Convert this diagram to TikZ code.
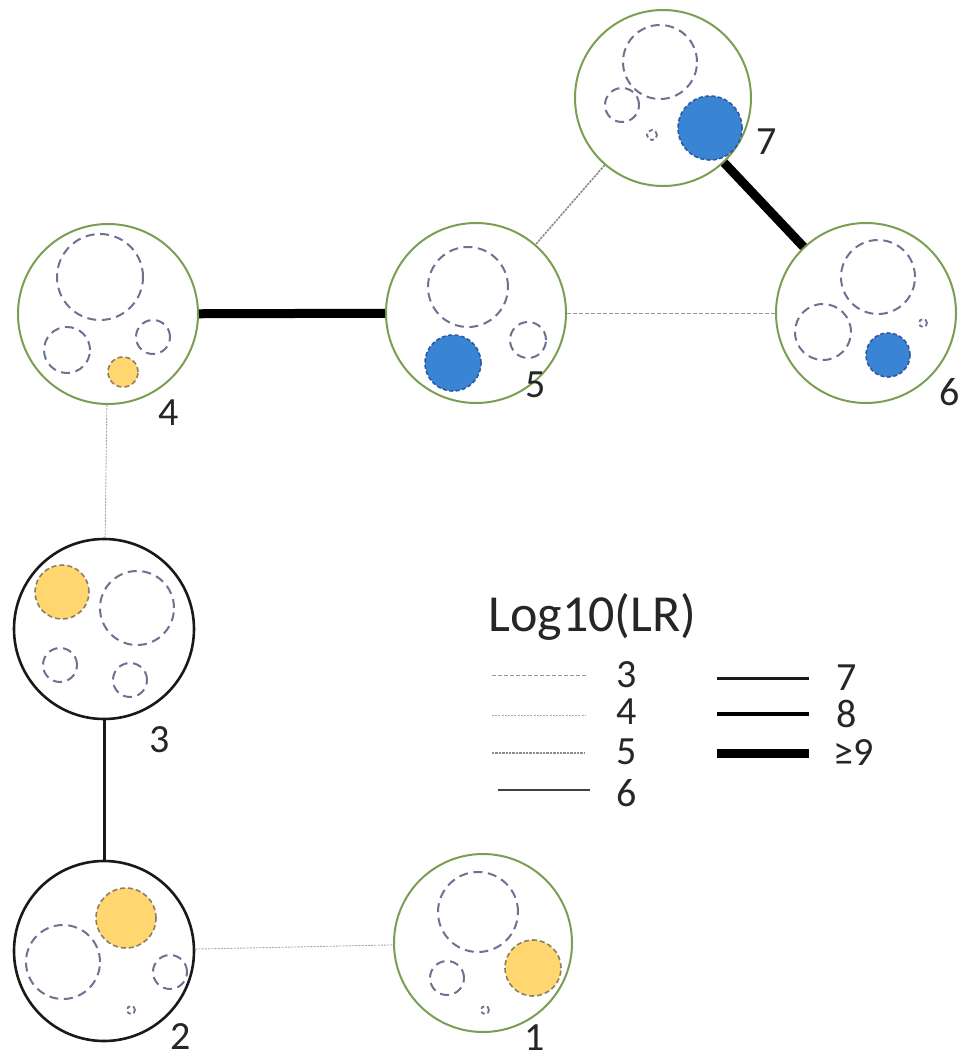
\documentclass[tikz,border=0pt]{standalone}
\usepackage{fontspec}
\setmainfont{Carlito}
\begin{document}
\begin{tikzpicture}[x=0.5pt,y=-0.5pt]
\definecolor{ringgreen}{RGB}{122,158,82}
\definecolor{inner}{RGB}{112,112,145}
\definecolor{bluefill}{RGB}{58,132,212}
\definecolor{blueedge}{RGB}{48,88,160}
\definecolor{yelfill}{RGB}{255,214,112}
\definecolor{yeledge}{RGB}{140,128,100}
\tikzset{
  outer/.style={circle, draw=ringgreen, line width=1pt, inner sep=0pt, minimum size=#1pt},
  outerblk/.style={circle, draw=black!90, line width=1.3pt, inner sep=0pt, minimum size=#1pt},
  hole/.style={circle, draw=inner, line width=1pt, dash pattern=on 4.5pt off 2.8pt, inner sep=0pt, minimum size=#1pt},
  tinyhole/.style={circle, draw=inner, line width=0.9pt, dash pattern=on 2pt off 1.5pt, inner sep=0pt, minimum size=#1pt},
  bluedot/.style={circle, fill=bluefill, draw=blueedge, line width=0.8pt, dash pattern=on 2pt off 1.2pt, inner sep=0pt, minimum size=#1pt},
  yeldot/.style={circle, fill=yelfill, draw=yeledge, line width=0.8pt, dash pattern=on 2.5pt off 1.5pt, inner sep=0pt, minimum size=#1pt},
  num/.style={font=\fontsize{20pt}{24pt}\selectfont, inner sep=0pt, text=black!85},
  lr3/.style={draw=gray!80, line width=0.5pt, dash pattern=on 2pt off 1pt},
  lr4/.style={draw=gray!70, line width=0.45pt, dash pattern=on 1pt off 0.6pt},
  lr5/.style={draw=gray!90, line width=0.8pt, dash pattern=on 1.2pt off 0.5pt},
  lr6/.style={draw=black!75, line width=1pt},
  lr7/.style={draw=black!90, line width=1.5pt},
  lr8/.style={draw=black, line width=2pt},
  lr9/.style={draw=black, line width=4.5pt},
}
\useasboundingbox (0,0) rectangle (960,1061);

\coordinate (c1) at (483,943);
\coordinate (c2) at (104,951);
\coordinate (c3) at (104,629);
\coordinate (c4) at (108,314);
\coordinate (c5) at (476,313);
\coordinate (c6) at (866,313);
\coordinate (c7) at (663,98);

% outer circles
\node[outer=88] (n7) at (c7) {};
\node[outer=90] (n4) at (c4) {};
\node[outer=90] (n5) at (c5) {};
\node[outer=90] (n6) at (c6) {};
\node[outerblk=90] (n3) at (c3) {};
\node[outerblk=90] (n2) at (c2) {};
\node[outer=89] (n1) at (c1) {};

% connectors
\draw[lr5] (n7) -- (n5);
\draw[lr9] (n7) -- (n6);
\draw[lr9] (n4) -- (n5);
\draw[lr3] (n5) -- (n6);
\draw[lr4] (n4) -- (n3);
\draw[lr7] (n3) -- (n2);
\draw[lr4] (n2) -- (n1);

% node 7 contents
\node[hole=37] (a7) at (660,62) {};
\node[hole=17] (b7) at (622,105) {};
\node[tinyhole=5] (t7) at (652,135) {};
\node[bluedot=32] (d7) at (710,128) {};
% node 4
\node[hole=43] (a4) at (100,277) {};
\node[hole=23] (b4) at (67,350) {};
\node[hole=17] (e4) at (153,337) {};
\node[yeldot=15] (d4) at (123,372) {};
% node 5
\node[hole=40] (a5) at (468,287) {};
\node[hole=18] (b5) at (528,340) {};
\node[bluedot=28] (d5) at (453,363) {};
% node 6
\node[hole=37] (a6) at (878,277) {};
\node[hole=28] (b6) at (823,332) {};
\node[tinyhole=4] (t6) at (923,323) {};
\node[bluedot=22] (d6) at (888,355) {};
% node 3
\node[yeldot=27] (d3) at (62,592) {};
\node[hole=37] (a3) at (137,608) {};
\node[hole=17] (b3) at (60,665) {};
\node[hole=17] (e3) at (130,680) {};
% node 2
\node[yeldot=30] (d2) at (126,918) {};
\node[hole=37] (a2) at (63,962) {};
\node[hole=17] (b2) at (170,972) {};
\node[tinyhole=4] (t2) at (131,1010) {};
% node 1
\node[hole=40] (a1) at (478,912) {};
\node[yeldot=28] (d1) at (533,968) {};
\node[hole=17] (b1) at (447,978) {};
\node[tinyhole=4] (t1) at (485,1010) {};

% labels
\node[num] (l7) at (767,142) {7};
\node[num] (l4) at (169,413) {4};
\node[num] (l5) at (536,385) {5};
\node[num] (l6) at (950,392) {6};
\node[num] (l3) at (160,740) {3};
\node[num] (l2) at (181,1037) {2};
\node[num] (l1) at (535,1038) {1};

% legend
\node[font=\fontsize{26pt}{30pt}\selectfont, inner sep=0pt, anchor=west, text=black!85] (title) at (488,617) {Log10(LR)};
\coordinate (s3) at (492,675); \coordinate (e3) at (587,675);
\coordinate (s4) at (492,715); \coordinate (e4) at (585,715);
\coordinate (s5) at (492,753); \coordinate (e5) at (585,753);
\coordinate (s6) at (498,790); \coordinate (e6) at (590,790);
\coordinate (s7) at (717,678); \coordinate (e7) at (809,678);
\coordinate (s8) at (717,714); \coordinate (e8) at (809,714);
\coordinate (s9) at (717,753); \coordinate (e9) at (809,753);
\draw[lr3] (s3) -- (e3);
\draw[lr4] (s4) -- (e4);
\draw[lr5] (s5) -- (e5);
\draw[lr6] (s6) -- (e6);
\draw[lr7] (s7) -- (e7);
\draw[lr8] (s8) -- (e8);
\draw[lr9] (s9) -- (e9);
\node[num] (k3) at (627,675) {3};
\node[num] (k4) at (627,712) {4};
\node[num] (k5) at (627,752) {5};
\node[num] (k6) at (627,793) {6};
\node[num] (k7) at (847,678) {7};
\node[num] (k8) at (847,714) {8};
\node[num, anchor=west] (k9) at (833,753) {≥9};
\end{tikzpicture}
\end{document}
